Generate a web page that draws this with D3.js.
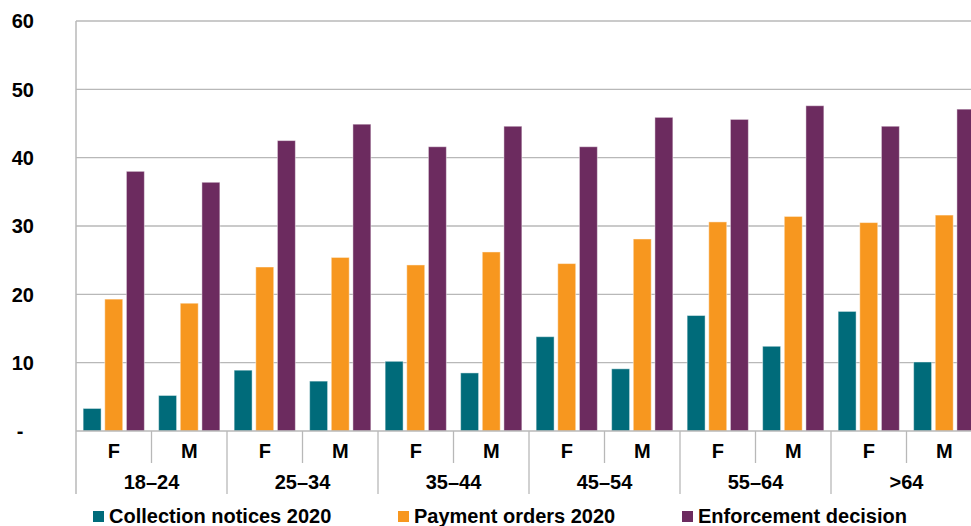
<!DOCTYPE html>
<html>
<head>
<meta charset="utf-8">
<script src="https://cdn.jsdelivr.net/npm/d3@7"></script>
<style>
  html, body { margin: 0; padding: 0; background: #fff; }
  svg { display: block; overflow: hidden; }
  text { font-family: "Liberation Sans", Arial, sans-serif; font-weight: bold; fill: #000; }
</style>
</head>
<body>
<div id="chart"></div>
<script>
// Age bands and sexes on the two-level category axis
const ageGroups = ["18–24", "25–34", "35–44", "45–54", "55–64", ">64"];
const sexes = ["F", "M"];
const seriesNames = ["Collection notices 2020", "Payment orders 2020", "Enforcement decision"];
const seriesColors = ["#006b7a", "#f7971f", "#6c2b5f"];

// Values in order: 18–24 F, 18–24 M, 25–34 F, 25–34 M, ... >64 F, >64 M
const collectionNotices = [3.3, 5.2, 8.9, 7.3, 10.2, 8.5, 13.8, 9.1, 16.9, 12.4, 17.5, 10.1];
const paymentOrders     = [19.3, 18.7, 24.0, 25.4, 24.3, 26.2, 24.5, 28.1, 30.6, 31.4, 30.5, 31.6];
const enforcementDecision = [38.0, 36.4, 42.5, 44.9, 41.6, 44.6, 41.6, 45.9, 45.6, 47.6, 44.6, 47.1];

const yTicks = [0, 10, 20, 30, 40, 50, 60];

const seriesValues = [collectionNotices, paymentOrders, enforcementDecision];

const W = 971, H = 526;
const plotLeft = 76, plotRight = 982, plotTop = 21, plotBottom = 431;
const fontSize = 20;

const svg = d3.select("#chart").append("svg")
  .attr("width", W).attr("height", H);

const y = d3.scaleLinear().domain([0, 60]).range([plotBottom, plotTop]);
const xAge = d3.scaleBand().domain(ageGroups).range([plotLeft, plotRight]);
const xSex = d3.scaleBand().domain(sexes).range([0, xAge.bandwidth()]);
const xSeries = d3.scaleBand().domain(seriesNames).range([0, xSex.bandwidth()])
  .paddingInner(0.17).paddingOuter(0.33);

const grid = "#b8b8b8";

// Horizontal gridlines
svg.append("g").selectAll("line")
  .data(yTicks.filter(d => d > 0))
  .join("line")
  .attr("x1", plotLeft).attr("x2", plotRight)
  .attr("y1", d => y(d)).attr("y2", d => y(d))
  .attr("stroke", grid).attr("stroke-width", 1.3);

// Y axis labels
const yAxis = svg.append("g")
  .attr("transform", `translate(${plotLeft},0)`)
  .call(d3.axisLeft(y).tickValues(yTicks).tickSize(0).tickPadding(42)
    .tickFormat(d => d === 0 ? "-" : d));
yAxis.select(".domain").remove();
yAxis.selectAll("text")
  .attr("font-size", fontSize).attr("font-family", "Liberation Sans, Arial, sans-serif")
  .attr("font-weight", "bold").attr("fill", "#000")
  .attr("dy", "0.34em");
yAxis.selectAll(".tick").filter(d => d === 0).select("text")
  .attr("text-anchor", "middle").attr("x", -56);

// Bars
const rows = [];
ageGroups.forEach((age, ai) => {
  sexes.forEach((sex, si) => {
    seriesNames.forEach((s, k) => {
      rows.push({ age, sex, series: s, color: seriesColors[k], value: seriesValues[k][ai * 2 + si] });
    });
  });
});

svg.append("g").selectAll("rect")
  .data(rows)
  .join("rect")
  .attr("x", d => xAge(d.age) + xSex(d.sex) + xSeries(d.series))
  .attr("width", xSeries.bandwidth())
  .attr("y", d => y(d.value))
  .attr("height", d => y(0) - y(d.value))
  .attr("fill", d => d.color)
  .attr("stroke", "#ffffff").attr("stroke-opacity", 0.45).attr("stroke-width", 1);

// Category axis: baseline, separators and labels
const cat = svg.append("g");
cat.append("line")
  .attr("x1", plotLeft).attr("x2", plotRight).attr("y1", plotBottom).attr("y2", plotBottom)
  .attr("stroke", grid).attr("stroke-width", 1.5);
// Left axis line running down through the label rows
cat.append("line")
  .attr("x1", plotLeft).attr("x2", plotLeft).attr("y1", plotTop).attr("y2", 494)
  .attr("stroke", grid).attr("stroke-width", 1.5);

// Separators between F and M within each age band
cat.selectAll("line.sex-sep")
  .data(ageGroups)
  .join("line").attr("class", "sex-sep")
  .attr("x1", d => xAge(d) + xSex("M")).attr("x2", d => xAge(d) + xSex("M"))
  .attr("y1", plotBottom).attr("y2", 463)
  .attr("stroke", grid).attr("stroke-width", 1.3);

// Separators between age bands
cat.selectAll("line.age-sep")
  .data(ageGroups.slice(1).concat(["end"]))
  .join("line").attr("class", "age-sep")
  .attr("x1", d => d === "end" ? plotRight : xAge(d))
  .attr("x2", d => d === "end" ? plotRight : xAge(d))
  .attr("y1", plotBottom).attr("y2", 494)
  .attr("stroke", grid).attr("stroke-width", 1.3);

const sexLabels = [];
ageGroups.forEach(a => sexes.forEach(s => sexLabels.push({ a, s })));
cat.selectAll("text.sex")
  .data(sexLabels)
  .join("text").attr("class", "sex")
  .attr("x", d => xAge(d.a) + xSex(d.s) + xSex.bandwidth() / 2)
  .attr("y", 458)
  .attr("text-anchor", "middle").attr("font-size", fontSize)
  .text(d => d.s);

cat.selectAll("text.age")
  .data(ageGroups)
  .join("text").attr("class", "age")
  .attr("x", d => xAge(d) + xAge.bandwidth() / 2)
  .attr("y", 489)
  .attr("text-anchor", "middle").attr("font-size", fontSize)
  .text(d => d);

// Legend
const legendX = [93, 398, 682];
const legend = svg.append("g").selectAll("g")
  .data(seriesNames)
  .join("g")
  .attr("transform", (d, i) => `translate(${legendX[i]},511)`);
legend.append("rect")
  .attr("width", 11).attr("height", 11)
  .attr("fill", (d, i) => seriesColors[i]);
legend.append("text")
  .attr("x", 16).attr("y", 12)
  .attr("font-size", fontSize)
  .text(d => d);
</script>
</body>
</html>
